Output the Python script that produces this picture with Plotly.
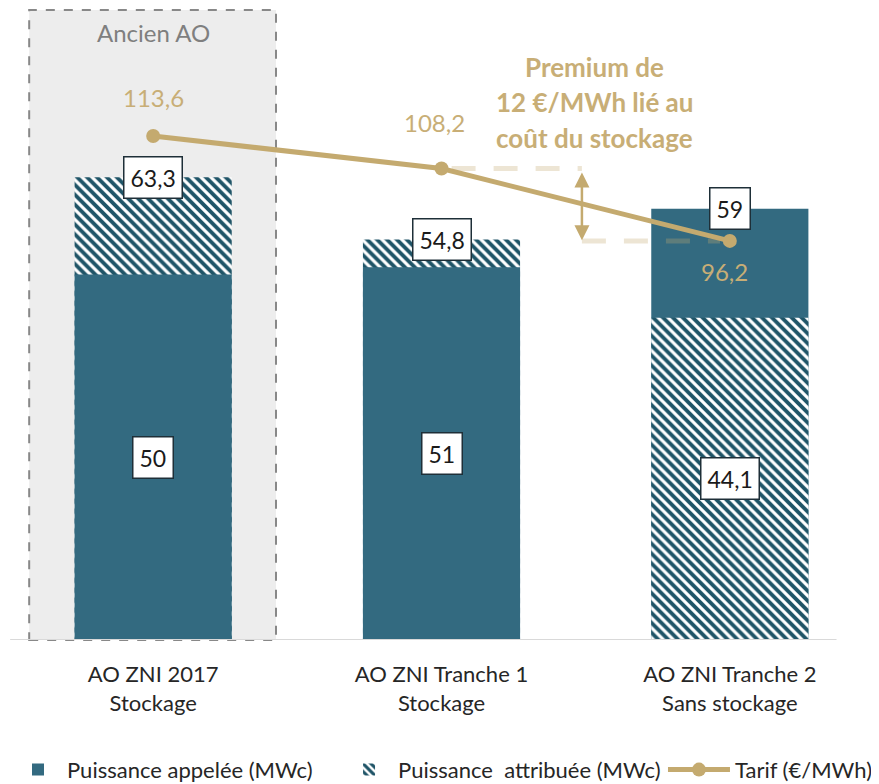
import plotly.graph_objects as go

categories = ["AO ZNI 2017<br>Stockage", "AO ZNI Tranche 1<br>Stockage", "AO ZNI Tranche 2<br>Sans stockage"]
puissance_appelee = [50, 51, 59]
puissance_attribuee = [63.3, 54.8, 44.1]
tarif = [113.6, 108.2, 96.2]
premium_lines = ["Premium de", "12 €/MWh lié au", "coût du stockage"]

TEAL = "#336a80"
HATCH = "#1f5467"
TAN = "#c4aa6f"
TAN_TXT = "#c8ae76"
TXT = "#262626"
FONT = "Lato"

def fr(v):
    s = ("%.1f" % v).rstrip("0").rstrip(".")
    return s.replace(".", ",")

hatch = dict(shape="\\", fgcolor=HATCH, bgcolor="white", size=7, solidity=0.55, fgopacity=1)
BW = 0.545

fig = go.Figure()
n = len(categories)
att_tall = [a if a > p else None for a, p in zip(puissance_attribuee, puissance_appelee)]
app_tall = [p if p >= a else None for a, p in zip(puissance_attribuee, puissance_appelee)]
app_short = [p if a > p else None for a, p in zip(puissance_attribuee, puissance_appelee)]
att_short = [a if p >= a else None for a, p in zip(puissance_attribuee, puissance_appelee)]

fig.add_trace(go.Bar(x=categories, y=att_tall, width=BW, marker=dict(color="white", pattern=hatch, line=dict(width=0)),
                     name="Puissance  attribuée (MWc)", legend="legend2", legendgroup="att", hoverinfo="skip"))
fig.add_trace(go.Bar(x=categories, y=app_tall, width=BW, marker=dict(color=TEAL, line=dict(width=0)),
                     name="Puissance appelée (MWc)", showlegend=False, legendgroup="app", hoverinfo="skip"))
fig.add_trace(go.Bar(x=categories, y=app_short, width=BW, marker=dict(color=TEAL, line=dict(width=0)),
                     name="Puissance appelée (MWc)", legend="legend", legendgroup="app", hoverinfo="skip"))
fig.add_trace(go.Bar(x=categories, y=att_short, width=BW, marker=dict(color="white", pattern=hatch, line=dict(width=0)),
                     name="Puissance  attribuée (MWc)", showlegend=False, legendgroup="att", hoverinfo="skip"))
fig.add_trace(go.Scatter(x=categories, y=tarif, yaxis="y2", mode="lines+markers",
                         line=dict(color=TAN, width=5), marker=dict(size=14, color=TAN),
                         name="Tarif (€/MWh)", legend="legend3", hoverinfo="skip"))

# "Ancien AO" box
fig.add_shape(type="rect", xref="x", yref="paper", x0=-0.43, x1=0.426, y0=0, y1=1,
              fillcolor="#ededed", line=dict(color="#888888", width=2, dash="dash"), layer="below")
fig.add_annotation(x=0, y=0.965, xref="x", yref="paper", yanchor="middle", text="Ancien AO", showarrow=False,
                   font=dict(family=FONT, size=24, color="#7f7f7f"))

# x axis line
fig.add_shape(type="line", xref="x", yref="y", x0=-0.496, x1=2.37, y0=0, y1=0,
              line=dict(color="#d9d9d9", width=2), layer="above")

# value boxes
box = dict(showarrow=False, bgcolor="white", bordercolor="#1e2f38", borderwidth=1.5, borderpad=6,
           font=dict(family=FONT, size=23, color="#1a1a1a"))
for i in range(n):
    top = max(puissance_appelee[i], puissance_attribuee[i])
    low = min(puissance_appelee[i], puissance_attribuee[i])
    fig.add_annotation(x=i, y=top, xref="x", yref="y", text=fr(top), **box)
    fig.add_annotation(x=i, y=low / 2, xref="x", yref="y", text=fr(low), **box)

# tarif labels
shifts = [(0, 39), (-7, 46), (-5, -31)]
for i, v in enumerate(tarif):
    fig.add_annotation(x=i, y=v, xref="x", yref="y2", text=fr(v), showarrow=False,
                       xshift=shifts[i][0], yshift=shifts[i][1],
                       font=dict(family=FONT, size=24, color=TAN_TXT))

# premium dashed guides and arrow
AX = 1.487
dash_col = "rgba(196,170,111,0.3)"
fig.add_shape(type="line", xref="x", yref="y2", x0=1.035, x1=AX, y0=tarif[1], y1=tarif[1],
              line=dict(color=dash_col, width=5, dash="24px,18px"), layer="above")
fig.add_shape(type="line", xref="x", yref="y2", x0=AX, x1=1.966, y0=tarif[2], y1=tarif[2],
              line=dict(color=dash_col, width=5, dash="24px,18px"), layer="above")
fig.add_annotation(x=AX, y=tarif[2] + 0.1, ax=AX, ay=tarif[1] - 0.4, xref="x", yref="y2",
                   axref="x", ayref="y2", showarrow=True, arrowside="end+start", arrowhead=2,
                   arrowsize=1.2, arrowwidth=2.5, arrowcolor=TAN, text="")

for txt, yy in zip(premium_lines, [0.9095, 0.854, 0.797]):
    fig.add_annotation(x=1.532, y=yy, xref="x", yref="paper", yanchor="middle", text="<b>%s</b>" % txt,
                       showarrow=False, font=dict(family=FONT, size=26, color=TAN_TXT))

leg_common = dict(orientation="h", y=-0.2060, yanchor="middle",
                  font=dict(family=FONT, size=22, color=TXT), bgcolor="rgba(0,0,0,0)")

fig.update_layout(
    width=871, height=800,
    margin=dict(l=1, r=5, t=2, b=168),
    paper_bgcolor="white", plot_bgcolor="rgba(0,0,0,0)",
    barmode="overlay",
    font=dict(family=FONT, size=22, color=TXT),
    xaxis=dict(type="category", range=[-0.5, 2.5], showgrid=False, showline=False, zeroline=False,
               ticks="", tickfont=dict(family=FONT, size=22, color=TXT), ticklabelstandoff=19),
    yaxis=dict(range=[0, 86.2], visible=False),
    yaxis2=dict(range=[30, 134.5], overlaying="y", visible=False),
    legend=dict(x=0.0, xanchor="left", itemwidth=48, **leg_common),
    legend2=dict(x=0.3827, xanchor="left", itemwidth=48, **leg_common),
    legend3=dict(x=1.0046, xanchor="right", itemwidth=62, **leg_common),
    showlegend=True,
)

fig.write_html("out.html")
